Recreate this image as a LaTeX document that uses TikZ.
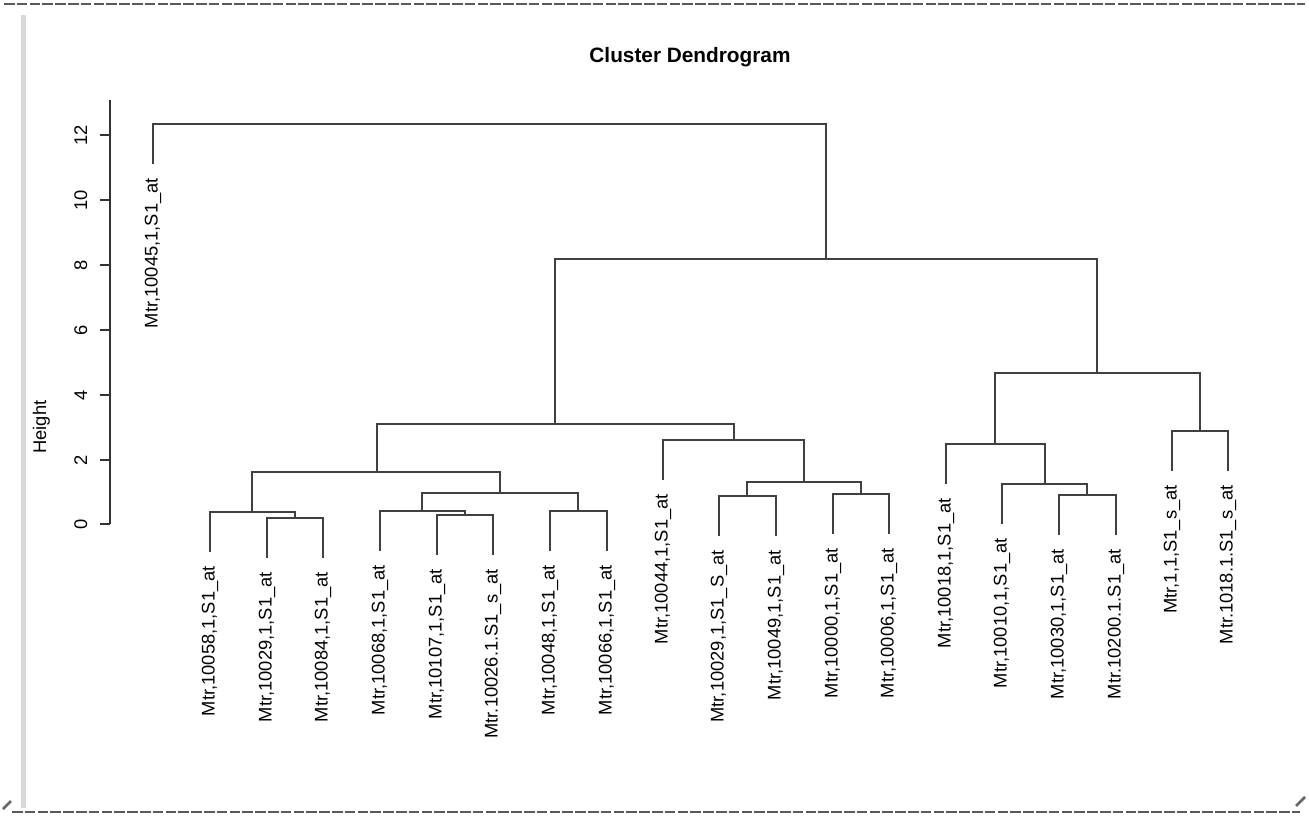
\documentclass[tikz,border=0pt]{standalone}
\usepackage{fontspec}
\setmainfont{Liberation Sans}
\usepackage{tikz}
\usetikzlibrary{positioning}
\tikzset{
  lab/.style={rotate=90, anchor=east, inner sep=0pt, font=\fontsize{13.75}{16}\selectfont},
  tick/.style={rotate=90, anchor=base, inner sep=0pt, font=\fontsize{13.75}{16}\selectfont},
  branch/.style={draw=black!75, line width=0.8pt},
  edge/.style={draw=black!65, line width=2.2pt, dash pattern=on 8pt off 1.6pt},
}

\begin{document}
\begin{tikzpicture}[x=0.75pt, y=-0.75pt]
      \useasboundingbox (0,0) rectangle (1309,817);

      % frame
      \fill[black!15] (21,15) rectangle (26,808);
      \draw[edge] (4,4) -- (1305,4);
      \draw[edge] (12,812) -- (1300,812);
      \draw[black!60, line width=2pt] (3,809) -- (11,801);
      \draw[black!60, line width=2pt] (1296,806) -- (1305,797);

      % title and axis
      \node[font=\bfseries\fontsize{15.6}{18}\selectfont, anchor=base, inner sep=0pt] (title) at (690,63) {Cluster Dendrogram};
      \node[tick] (ylab) at (46,427) {Height};
      \draw[black!80, line width=0.8pt] (110,100) -- (110,524);
      \draw[black!80, line width=0.8pt] (100,524) -- (110,524);
      \draw[black!80, line width=0.8pt] (100,460) -- (110,460);
      \draw[black!80, line width=0.8pt] (100,395) -- (110,395);
      \draw[black!80, line width=0.8pt] (100,330) -- (110,330);
      \draw[black!80, line width=0.8pt] (100,265) -- (110,265);
      \draw[black!80, line width=0.8pt] (100,200) -- (110,200);
      \draw[black!80, line width=0.8pt] (100,135) -- (110,135);
      \node[tick] (y0) at (87,524) {0};
      \node[tick] (y2) at (87,460) {2};
      \node[tick] (y4) at (87,395) {4};
      \node[tick] (y6) at (87,330) {6};
      \node[tick] (y8) at (87,265) {8};
      \node[tick] (y10) at (87,200) {10};
      \node[tick] (y12) at (87,135) {12};

      % leaves
      \coordinate (l1) at (153,164);
      \coordinate (l2) at (210,552);
      \coordinate (l3) at (267,558);
      \coordinate (l4) at (323,558);
      \coordinate (l5) at (380,551);
      \coordinate (l6) at (437,555);
      \coordinate (l7) at (493,555);
      \coordinate (l8) at (550,551);
      \coordinate (l9) at (607,551);
      \coordinate (l10) at (663,480);
      \coordinate (l11) at (719,536);
      \coordinate (l12) at (776,536);
      \coordinate (l13) at (833,534);
      \coordinate (l14) at (889,534);
      \coordinate (l15) at (946,484);
      \coordinate (l16) at (1002,524);
      \coordinate (l17) at (1059,535);
      \coordinate (l18) at (1116,535);
      \coordinate (l19) at (1172,471);
      \coordinate (l20) at (1228,471);

      \node[below=10.5pt of l1, lab] (t1) {Mtr,10045,1,S1\_at};
      \node[below=10.5pt of l2, lab] (t2) {Mtr,10058,1,S1\_at};
      \node[below=10.5pt of l3, lab] (t3) {Mtr,10029,1,S1\_at};
      \node[below=10.5pt of l4, lab] (t4) {Mtr,10084,1,S1\_at};
      \node[below=10.5pt of l5, lab] (t5) {Mtr,10068,1,S1\_at};
      \node[below=10.5pt of l6, lab] (t6) {Mtr,10107,1,S1\_at};
      \node[below=10.5pt of l7, lab] (t7) {Mtr.10026.1.S1\_s\_at};
      \node[below=10.5pt of l8, lab] (t8) {Mtr,10048,1,S1\_at};
      \node[below=10.5pt of l9, lab] (t9) {Mtr,10066,1,S1\_at};
      \node[below=10.5pt of l10, lab] (t10) {Mtr,10044,1,S1\_at};
      \node[below=10.5pt of l11, lab] (t11) {Mtr,10029,1,S1\_S\_at};
      \node[below=10.5pt of l12, lab] (t12) {Mtr,10049,1,S1\_at};
      \node[below=10.5pt of l13, lab] (t13) {Mtr,10000,1,S1\_at};
      \node[below=10.5pt of l14, lab] (t14) {Mtr,10006,1,S1\_at};
      \node[below=10.5pt of l15, lab] (t15) {Mtr,10018,1,S1\_at};
      \node[below=10.5pt of l16, lab] (t16) {Mtr,10010,1,S1\_at};
      \node[below=10.5pt of l17, lab] (t17) {Mtr,10030,1,S1\_at};
      \node[below=10.5pt of l18, lab] (t18) {Mtr.10200.1.S1\_at};
      \node[below=10.5pt of l19, lab] (t19) {Mtr,1,1,S1\_s\_at};
      \node[below=10.5pt of l20, lab] (t20) {Mtr.1018.1.S1\_s\_at};

      % merges
      \coordinate (root) at (490,124);
      \coordinate (big) at (826,259);
      \coordinate (a) at (555,424);
      \coordinate (b) at (1097,373);
      \coordinate (a1) at (377,472);
      \coordinate (a11) at (252,512);
      \coordinate (a112) at (295,518);
      \coordinate (a12) at (500,493);
      \coordinate (a121) at (422,511);
      \coordinate (a1212) at (465,515);
      \coordinate (a122) at (578,511);
      \coordinate (a2) at (734,440);
      \coordinate (a22) at (804,482);
      \coordinate (a221) at (747,496);
      \coordinate (a222) at (861,494);
      \coordinate (b1) at (995,444);
      \coordinate (b12) at (1045,484);
      \coordinate (b122) at (1087,495);
      \coordinate (b2) at (1200,431);

      \draw[branch] (l1) |- (root) -| (big);
      \draw[branch] (a) |- (big) -| (b);
      \draw[branch] (a1) |- (a) -| (a2);
      \draw[branch] (a11) |- (a1) -| (a12);
      \draw[branch] (l2) |- (a11) -| (a112);
      \draw[branch] (l3) |- (a112) -| (l4);
      \draw[branch] (a121) |- (a12) -| (a122);
      \draw[branch] (l5) |- (a121) -| (a1212);
      \draw[branch] (l6) |- (a1212) -| (l7);
      \draw[branch] (l8) |- (a122) -| (l9);
      \draw[branch] (l10) |- (a2) -| (a22);
      \draw[branch] (a221) |- (a22) -| (a222);
      \draw[branch] (l11) |- (a221) -| (l12);
      \draw[branch] (l13) |- (a222) -| (l14);
      \draw[branch] (b1) |- (b) -| (b2);
      \draw[branch] (l15) |- (b1) -| (b12);
      \draw[branch] (l16) |- (b12) -| (b122);
      \draw[branch] (l17) |- (b122) -| (l18);
      \draw[branch] (l19) |- (b2) -| (l20);
    \end{tikzpicture}
\end{document}
